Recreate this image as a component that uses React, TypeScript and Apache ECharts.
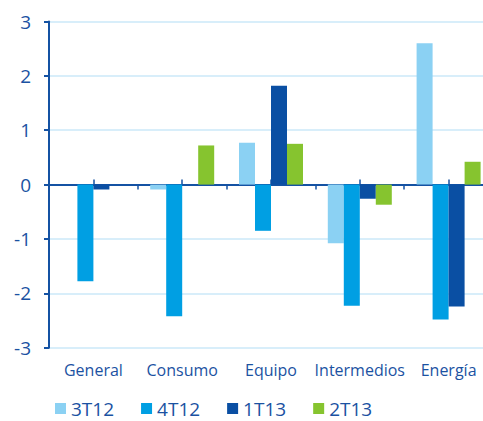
import React, { useEffect, useRef } from "react";
import * as echarts from "echarts";

const categories = ["General", "Consumo", "Equipo", "Intermedios", "Energía"];
const halfCategories = ["a", "b", "c", "d", "e", "f", "g", "h", "i", "j"];
const seriesNames = ["3T12", "4T12", "1T13", "2T13"];
const s3T12 = [0, -0.09, 0.77, -1.08, 2.6];
const s4T12 = [-1.78, -2.42, -0.85, -2.23, -2.48];
const s1T13 = [-0.09, 0, 1.82, -0.26, -2.24];
const s2T13 = [0, 0.72, 0.75, -0.37, 0.42];
const colors = ["#8bd1f3", "#009fe3", "#0a4fa3", "#86c42f"];

const textColor = "#1b52a2";
const axisColor = "#1452a3";
const gridColor = "#cbe8f8";

export default function App() {
  const ref = useRef<HTMLDivElement>(null);
  useEffect(() => {
    const chart = echarts.init(ref.current!, null, { renderer: "svg" });
    const values = [s3T12, s4T12, s1T13, s2T13];
    const gridPos = { left: 49, width: 444, top: 21.5, height: 326.2, containLabel: false, outerBoundsMode: "none" };
    chart.setOption({
      animation: false,
      textStyle: { fontFamily: "Open Sans" },
      grid: [gridPos, gridPos],
      legend: {
        data: seriesNames,
        left: 55,
        top: 399,
        padding: 0,
        itemWidth: 11,
        itemHeight: 11,
        itemGap: 27,
        icon: "rect",
        textStyle: { color: textColor, fontSize: 19, fontFamily: "Open Sans" },
      },
      xAxis: [
        {
          gridIndex: 0,
          type: "category",
          data: categories,
          position: "bottom",
          axisLine: { show: false, onZero: false },
          axisTick: { show: false },
          axisLabel: { color: textColor, fontSize: 16, margin: 14, interval: 0, fontFamily: "Open Sans" },
        },
        {
          gridIndex: 0,
          type: "category",
          data: categories,
          position: "top",
          axisLine: { show: true, onZero: true, lineStyle: { color: axisColor, width: 2 } },
          axisTick: { show: true, inside: true, length: 5, interval: 0, lineStyle: { color: axisColor, width: 1.5 } },
          axisLabel: { show: false },
          splitLine: { show: false },
        },
        {
          gridIndex: 1,
          type: "category",
          data: halfCategories,
          position: "top",
          axisLine: { show: false, onZero: true },
          axisTick: {
            show: true,
            length: 5,
            interval: (i: number) => i % 2 === 1,
            lineStyle: { color: axisColor, width: 1.5 },
          },
          axisLabel: { show: false },
          splitLine: { show: false },
        },
      ],
      yAxis: [
        {
          gridIndex: 0,
          type: "value",
          min: -3,
          max: 3,
          interval: 1,
          axisLine: { show: true, onZero: false, lineStyle: { color: axisColor, width: 2 } },
          axisTick: { show: true, length: 5, lineStyle: { color: axisColor, width: 2 } },
          axisLabel: { color: textColor, fontSize: 19, margin: 18, fontFamily: "Open Sans" },
          splitLine: { show: true, lineStyle: { color: gridColor, width: 1.5 } },
        },
        {
          gridIndex: 1,
          type: "value",
          min: -3,
          max: 3,
          interval: 1,
          axisLine: { show: false, onZero: false },
          axisTick: { show: false },
          axisLabel: { show: false },
          splitLine: { show: false },
        },
      ],
      series: seriesNames.map((name, k) => ({
        name,
        type: "bar",
        xAxisIndex: 0,
        yAxisIndex: 0,
        data: values[k],
        barWidth: 16,
        barGap: "0%",
        itemStyle: { color: colors[k] },
      })),
    });
    return () => chart.dispose();
  }, []);
  return <div ref={ref} style={{ width: 483, height: 421, position: "absolute", left: 0, top: 0 }} />;
}
